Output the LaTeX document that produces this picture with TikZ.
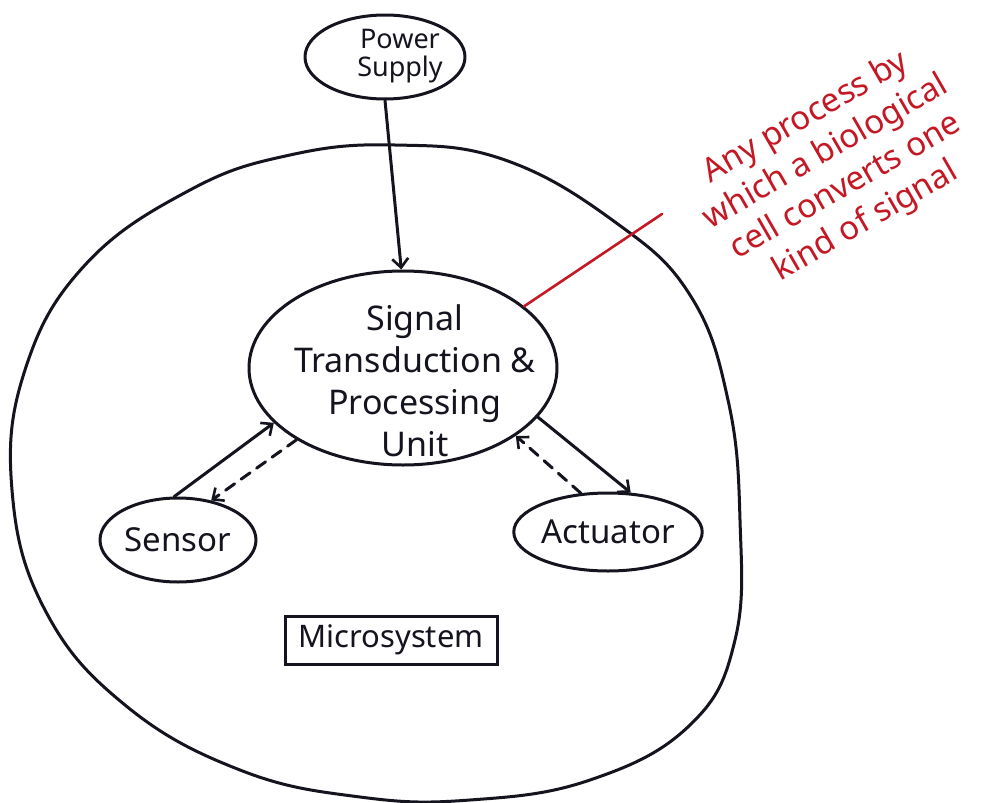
\documentclass[tikz,border=0pt]{standalone}
\usepackage{fontspec}
\setmainfont{Noto Sans}
\usetikzlibrary{arrows.meta,shapes.geometric}
\definecolor{inkred}{RGB}{196,24,36}
\definecolor{ink}{RGB}{20,20,30}
\begin{document}
\begin{tikzpicture}[x=1pt,y=-1pt,
  pen/.style={draw=ink,line width=3pt,line cap=round,line join=round},
  blob/.style={pen,ellipse,inner sep=0pt,text=ink},
  tip/.style={-{Straight Barb[length=9pt,width=16pt,line width=2.6pt]}},
  dashline/.style={dash pattern=on 11pt off 8pt},
  label/.style={text=ink,align=center}]
\useasboundingbox (0,0) rectangle (983,803);
\fill[white] (0,0) rectangle (983,803);

% the cell boundary of the microsystem
\draw[pen] plot[smooth cycle,tension=0.7] coordinates {
  (395,145) (505,160) (615,222) (690,295) (728,400) (740,520) (735,640)
  (690,725) (590,780) (470,800) (360,797) (240,770) (125,705) (45,610)
  (12,490) (25,370) (85,265) (190,190) (290,155)};

% blocks
\node[blob,minimum width=160pt,minimum height=84pt] (pow) at (385,57) {};
\node[label,font=\fontsize{27}{28}\selectfont] (powt) at (400,56) {Power\\Supply};

\node[blob,minimum width=308pt,minimum height=194pt] (sig) at (403,368) {};
\node[label,font=\fontsize{34}{42}\selectfont] (sigt) at (415,381)
  {Signal\\Transduction \&\\Processing\\Unit};

\node[blob,minimum width=156pt,minimum height=84pt,
      font=\fontsize{33}{36}\selectfont] (sen) at (178,540) {Sensor};
\node[blob,minimum width=178pt,minimum height=78pt,
      font=\fontsize{33}{36}\selectfont] (act) at (608,532) {Actuator};

\node[draw=ink,line width=3pt,minimum width=212pt,minimum height=48pt,
      inner sep=0pt,text=ink,font=\fontsize{31}{34}\selectfont]
  (mic) at (391,640) {Microsystem};

% connectors
\draw[pen,tip] (pow.270) -- (sig.91);
\draw[pen,tip] (sen.95) -- (sig.203);
\draw[pen,tip,dashline] (sig.214) -- (sen.50);
\draw[pen,tip] (sig.340) -- (act.60);
\draw[pen,tip,dashline] (act.125) -- (sig.329);

% annotation
\coordinate (callout) at (662,214);
\draw[inkred,line width=2.6pt,line cap=round] (sig.27) -- (callout);
\node[text=inkred,align=center,rotate=30,font=\fontsize{33}{40}\selectfont]
  (note) at (836,170)
  {Any process by\\which a biological\\cell converts one\\kind of signal};
\end{tikzpicture}
\end{document}
